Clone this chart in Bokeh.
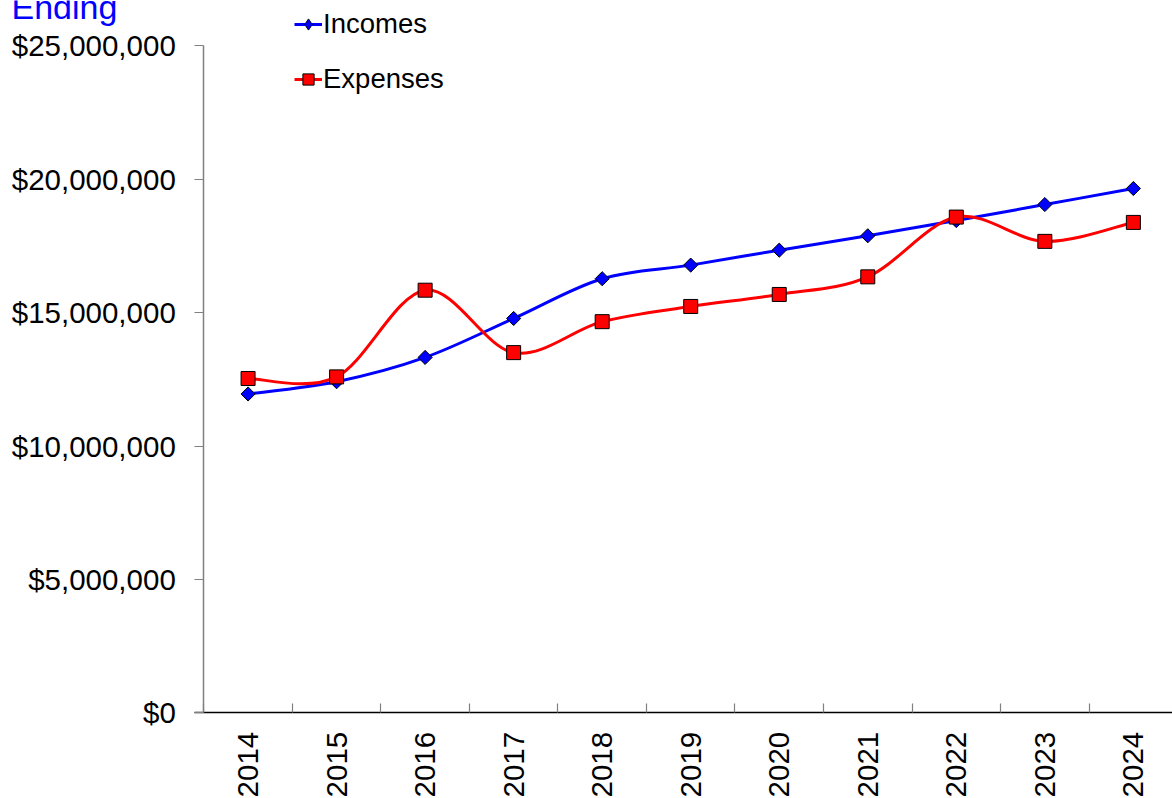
import numpy as np
from bokeh.plotting import figure
from bokeh.models import (ColumnDataSource, Range1d, FixedTicker, NumeralTickFormatter,
                          LinearAxis, Legend, LegendItem, Label)
from bokeh.embed import file_html
from bokeh.resources import INLINE

# Yearly figures
years = ["2014", "2015", "2016", "2017", "2018", "2019", "2020", "2021", "2022", "2023", "2024"]
incomes = [11950000, 12410000, 13320000, 14780000, 16270000, 16780000,
           17340000, 17880000, 18450000, 19050000, 19650000]
expenses = [12530000, 12590000, 15840000, 13500000, 14660000, 15230000,
            15680000, 16340000, 18580000, 17670000, 18380000]
y_ticks = [0, 5000000, 10000000, 15000000, 20000000, 25000000]
y_max = 25000000

FONT = "Liberation Sans"
W, H = 1172, 798
# plot area in pixels: left edge, top (y_max) and bottom (0)
PX_LEFT, PX_TOP, PX_BOTTOM = 203.3, 45.3, 712.3
CAT_W = 88.53

xs = np.arange(len(years), dtype=float)


def smooth_source(x, y):
    """Cubic Bezier segments (Catmull-Rom control points) through the points."""
    x = np.asarray(x, dtype=float)
    y = np.asarray(y, dtype=float)
    n = len(x)
    d = dict(x0=[], y0=[], x1=[], y1=[], cx0=[], cy0=[], cx1=[], cy1=[])
    for i in range(n - 1):
        a = max(i - 1, 0)
        b = min(i + 2, n - 1)
        d["x0"].append(x[i]); d["y0"].append(y[i])
        d["x1"].append(x[i + 1]); d["y1"].append(y[i + 1])
        d["cx0"].append(x[i] + (x[i + 1] - x[a]) / 6.0)
        d["cy0"].append(y[i] + (y[i + 1] - y[a]) / 6.0)
        d["cx1"].append(x[i + 1] - (x[b] - x[i]) / 6.0)
        d["cy1"].append(y[i + 1] - (y[b] - y[i]) / 6.0)
    return ColumnDataSource(d)


# The frame fills the whole canvas; the axes sit at fixed data locations.
per_px = y_max / (PX_BOTTOM - PX_TOP)
x_start = -0.5 - PX_LEFT / CAT_W
x_end = -0.5 + (W - PX_LEFT) / CAT_W
y_start = -(H - PX_BOTTOM) * per_px
y_end = y_max + PX_TOP * per_px

p = figure(width=W, height=H, output_backend="svg", toolbar_location=None,
           x_range=Range1d(x_start, x_end), y_range=Range1d(y_start, y_end),
           x_axis_location=None, y_axis_location=None,
           min_border=0, min_border_left=0, min_border_right=0,
           min_border_top=0, min_border_bottom=0)
p.outline_line_color = None
p.grid.visible = False
p.background_fill_color = "white"
p.border_fill_color = "white"

# y axis
yax = LinearAxis(fixed_location=-0.5, bounds=(0, y_max))
yax.ticker = FixedTicker(ticks=y_ticks)
yax.formatter = NumeralTickFormatter(format="$0,0")
yax.axis_line_color = "#808080"
yax.axis_line_width = 1.5
yax.major_tick_line_color = "#808080"
yax.major_tick_line_width = 1.2
yax.major_tick_in = 0
yax.major_tick_out = 9
yax.minor_tick_line_color = None
yax.major_label_standoff = 19
yax.major_label_text_font = FONT
yax.major_label_text_font_size = "29.5px"
yax.major_label_text_color = "black"
p.add_layout(yax, "left")

# x axis: labels at category centres, tick marks on category boundaries
xax = LinearAxis(fixed_location=0, bounds=(-0.5 - 9 / CAT_W, 10.5))
xax.ticker = FixedTicker(ticks=list(xs), minor_ticks=list(np.arange(len(years) + 1) - 0.5))
xax.major_label_overrides = {float(i): yr for i, yr in enumerate(years)}
xax.major_label_orientation = np.pi / 2
xax.axis_line_color = "black"
xax.axis_line_width = 1.5
xax.major_tick_in = 0
xax.major_tick_out = 0
xax.minor_tick_in = 9
xax.minor_tick_out = 0
xax.minor_tick_line_color = "#808080"
xax.minor_tick_line_width = 1.2
xax.major_label_standoff = 19
xax.major_label_text_font = FONT
xax.major_label_text_font_size = "29.5px"
xax.major_label_text_color = "black"
p.add_layout(xax, "below")

# series
inc_curve = p.bezier(x0="x0", y0="y0", x1="x1", y1="y1", cx0="cx0", cy0="cy0",
                     cx1="cx1", cy1="cy1", source=smooth_source(xs, incomes),
                     line_color="#0000FF", line_width=3)
exp_curve = p.bezier(x0="x0", y0="y0", x1="x1", y1="y1", cx0="cx0", cy0="cy0",
                     cx1="cx1", cy1="cy1", source=smooth_source(xs, expenses),
                     line_color="#FF0000", line_width=3)

inc_pts = p.scatter(xs, incomes, marker="square", angle=np.pi / 4, size=10,
                    fill_color="#0000FF", line_color="black", line_width=1)
exp_pts = p.scatter(xs, expenses, marker="square", size=14,
                    fill_color="#FF0000", line_color="black", line_width=1)

# hidden renderer that only supplies the diamond key of the incomes legend entry
inc_key = p.scatter(xs, incomes, marker="diamond", size=12, visible=False,
                    fill_color="#0000FF", line_color="black", line_width=1)

legend = Legend(items=[LegendItem(label="Incomes", renderers=[inc_curve, inc_key]),
                       LegendItem(label="Expenses", renderers=[exp_curve, exp_pts])],
                location=(294, H - 95), orientation="vertical",
                glyph_width=28, glyph_height=30, label_height=30, spacing=23,
                label_standoff=1, padding=0, margin=0,
                border_line_color=None, background_fill_alpha=0,
                inactive_fill_alpha=0,
                label_text_font=FONT, label_text_font_size="27.5px",
                label_text_color="black")
p.add_layout(legend, "center")

p.add_layout(Label(x=11, y=H - 6, x_units="screen", y_units="screen", text="Ending",
                   text_font=FONT, text_font_size="34px", text_color="#0000FF",
                   text_baseline="alphabetic", text_align="left"))

open("out.html", "w").write(file_html(p, INLINE))
